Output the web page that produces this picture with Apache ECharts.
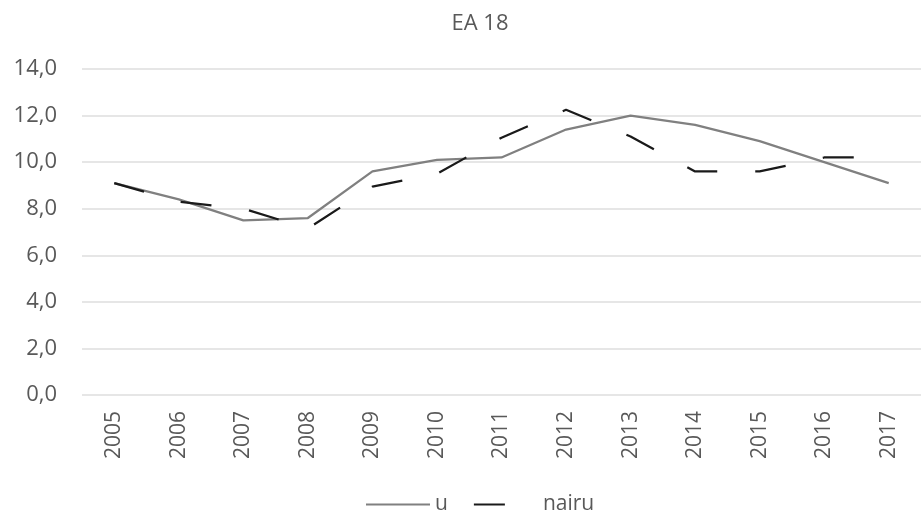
<!DOCTYPE html>
<html>
<head>
<meta charset="utf-8">
<script src="https://cdn.jsdelivr.net/npm/echarts@6/dist/echarts.min.js"></script>
<style>
  html, body { margin: 0; padding: 0; background: #fff; }
  #chart { width: 921px; height: 512px; }
</style>
</head>
<body>
<div id="chart"></div>
<script>
const years = ['2005', '2006', '2007', '2008', '2009', '2010', '2011', '2012', '2013', '2014', '2015', '2016', '2017'];
const uValues = [9.1, 8.4, 7.5, 7.6, 9.6, 10.1, 10.2, 11.4, 12.0, 11.6, 10.9, 10.0, 9.1];
const nairuValues = [9.1, 8.3, 8.0, 7.15, 8.95, 9.5, 11.05, 12.25, 11.1, 9.6, 9.6, 10.2, 10.2];
const yTicks = [0, 2, 4, 6, 8, 10, 12, 14];

const FONT = '"Open Sans", "Noto Sans", sans-serif';
const TEXT = '#595959';

const chart = echarts.init(document.getElementById('chart'));

chart.setOption({
  animation: false,
  title: {
    text: 'EA 18',
    left: 475,
    top: 8,
    textAlign: 'center',
    textStyle: { fontFamily: FONT, fontSize: 22, fontWeight: 'normal', color: TEXT },
  },
  legend: {
    left: 360,
    top: 489,
    orient: 'horizontal',
    itemWidth: 64,
    itemHeight: 20,
    itemGap: 25,
    itemStyle: { opacity: 0 },
    textStyle: { fontFamily: FONT, fontSize: 21, color: TEXT },
    data: ['u', 'nairu'],
  },
  grid: {
    left: 82,
    top: 69,
    width: 848,
    height: 326,
  },
  xAxis: {
    type: 'category',
    data: years,
    boundaryGap: true,
    axisLine: { show: false },
    axisTick: { show: false },
    axisLabel: {
      rotate: 90,
      margin: 16,
      fontFamily: FONT,
      fontSize: 21,
      color: TEXT,
    },
  },
  yAxis: {
    type: 'value',
    min: yTicks[0],
    max: yTicks[yTicks.length - 1],
    interval: 2,
    axisLine: { show: false },
    axisTick: { show: false },
    axisLabel: {
      margin: 25,
      fontFamily: FONT,
      fontSize: 22,
      color: TEXT,
      formatter: (v) => v.toFixed(1).replace('.', ','),
    },
    splitLine: { lineStyle: { color: '#dedede', width: 1.5 } },
  },
  series: [
    {
      name: 'u',
      type: 'line',
      data: uValues,
      symbol: 'none',
      lineStyle: { color: '#808080', width: 2.25 },
      itemStyle: { color: '#808080' },
    },
    {
      name: 'nairu',
      type: 'line',
      data: nairuValues,
      symbol: 'none',
      lineStyle: { color: '#1a1a1a', width: 2.25, type: [31, 38] },
      itemStyle: { color: '#1a1a1a' },
    },
  ],
});
</script>
</body>
</html>
